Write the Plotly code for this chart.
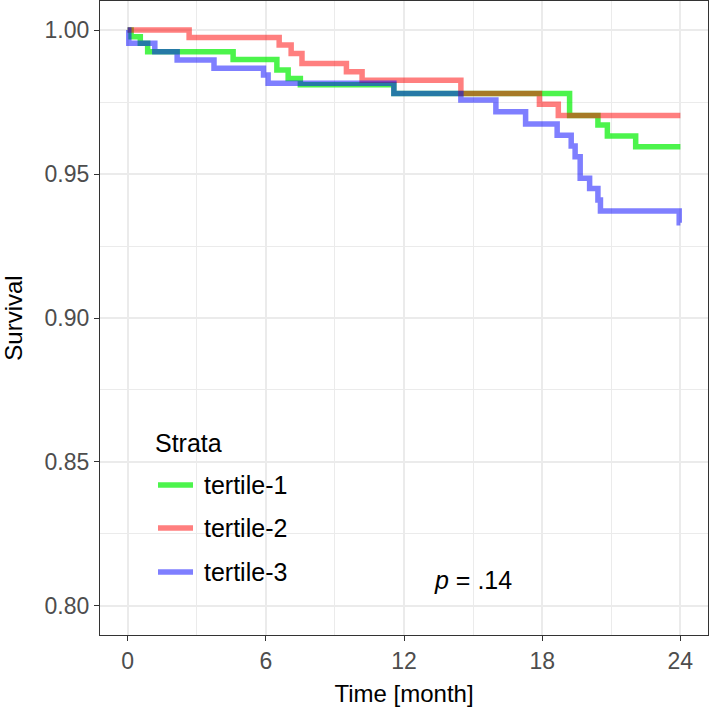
import plotly.graph_objects as go

# ---- data ----
t1_time = [0, 0.15, 0.55, 0.87, 4.58, 6.48, 6.97, 7.5, 11.56, 19.19, 20.42, 20.83, 22.06, 24.0]
t1_surv = [1.0, 0.9977, 0.9954, 0.9925, 0.9898, 0.9861, 0.9832, 0.9810, 0.9780, 0.9703, 0.9670, 0.9632, 0.9595, 0.9595]

t2_time = [0, 2.67, 6.58, 7.1, 7.57, 9.5, 10.18, 14.47, 17.88, 18.7, 24.0]
t2_surv = [1.0, 0.9974, 0.9948, 0.9919, 0.9884, 0.9855, 0.9826, 0.9780, 0.9742, 0.9703, 0.9703]

t3_time = [0, 0.05, 1.18, 2.15, 3.75, 5.9, 6.1, 11.56, 14.47, 15.99, 17.28, 18.65, 19.26, 19.43, 19.65,
           20.06, 20.42, 20.53, 23.95, 24.0]
t3_surv = [1.0, 0.9954, 0.9925, 0.9896, 0.9867, 0.9844, 0.9815, 0.9780, 0.9757, 0.9716, 0.9674, 0.9635,
           0.9597, 0.9560, 0.9485, 0.9450, 0.9410, 0.9372, 0.9331, 0.9331]

strata = ["tertile-1", "tertile-2", "tertile-3"]
colors = ["rgba(0,240,0,0.7)", "rgba(255,0,0,0.5)", "rgba(0,0,255,0.5)"]
x_ticks = [0, 6, 12, 18, 24]
y_ticks = [0.80, 0.85, 0.90, 0.95, 1.00]
p_label = "<i>p</i> = .14"
legend_title = "Strata"

FONT = "Liberation Sans, Arial, sans-serif"

# plot area in pixels: x 100..708, y 1..635
L, R, T, B = 100, 1, 1, 78
W, H = 709, 713
PW, PH = W - L - R, H - T - B


def px_x(px):
    return (px - L) / PW


def px_y(py):
    return (H - B - py) / PH


fig = go.Figure()
for i, (tx, sy) in enumerate([(t1_time, t1_surv), (t2_time, t2_surv), (t3_time, t3_surv)]):
    fig.add_trace(go.Scatter(
        x=tx, y=sy, mode="lines", line=dict(shape="hv", color=colors[i], width=5.5),
        name=strata[i], showlegend=False,
    ))

fig.add_annotation(x=15, y=0.809, text=p_label, showarrow=False,
                   font=dict(family=FONT, size=25, color="black"), xref="x", yref="y")

# legend (drawn inside the panel, like ggplot's legend.position inside)
fig.add_shape(type="rect", xref="paper", yref="paper",
              x0=px_x(138), x1=px_x(303), y0=px_y(613), y1=px_y(418),
              fillcolor="white", line=dict(width=0), layer="between")
fig.add_annotation(xref="paper", yref="paper", x=px_x(153), y=px_y(443), text=legend_title,
                   showarrow=False, xanchor="left", yanchor="middle",
                   font=dict(family=FONT, size=25, color="black"))
entry_y = [485, 528, 572]
for i in range(3):
    fig.add_shape(type="line", xref="paper", yref="paper",
                  x0=px_x(158), x1=px_x(193), y0=px_y(entry_y[i]), y1=px_y(entry_y[i]),
                  line=dict(color=colors[i], width=5.5), layer="above")
    fig.add_annotation(xref="paper", yref="paper", x=px_x(202), y=px_y(entry_y[i]), text=strata[i],
                       showarrow=False, xanchor="left", yanchor="middle",
                       font=dict(family=FONT, size=25, color="black"))

fig.update_layout(
    width=W, height=H,
    margin=dict(l=L, r=R, t=T, b=B),
    plot_bgcolor="white", paper_bgcolor="white",
    font=dict(family=FONT, color="black"),
    showlegend=False,
    xaxis=dict(
        range=[-1.2, 25.2], tickvals=x_ticks, ticktext=[str(v) for v in x_ticks],
        showgrid=True, gridcolor="#EBEBEB", gridwidth=1.5,
        minor=dict(tickvals=[3, 9, 15, 21], showgrid=True, gridcolor="#EBEBEB", gridwidth=0.8, ticks=""),
        ticks="outside", ticklen=5, tickcolor="#333333", tickwidth=1.2,
        tickfont=dict(size=23, family=FONT, color="#4D4D4D"),
        showline=True, linecolor="#333333", linewidth=1.2, mirror=True, zeroline=False,
        automargin=False,
        title=dict(text="Time [month]", font=dict(size=24, family=FONT, color="black"), standoff=12),
    ),
    yaxis=dict(
        range=[0.7899, 1.0101], tickvals=y_ticks, ticktext=["%.2f" % v for v in y_ticks],
        showgrid=True, gridcolor="#EBEBEB", gridwidth=1.5,
        minor=dict(tickvals=[0.825, 0.875, 0.925, 0.975], showgrid=True, gridcolor="#EBEBEB", gridwidth=0.8, ticks=""),
        ticks="outside", ticklen=5, tickcolor="#333333", tickwidth=1.2,
        tickfont=dict(size=23, family=FONT, color="#4D4D4D"),
        showline=True, linecolor="#333333", linewidth=1.2, mirror=True, zeroline=False,
        automargin=False,
        title=dict(text="Survival", font=dict(size=24, family=FONT, color="black"), standoff=17),
    ),
)

fig.write_html("out.html", config={"displayModeBar": False},
               post_script="document.body.style.margin='0';")
